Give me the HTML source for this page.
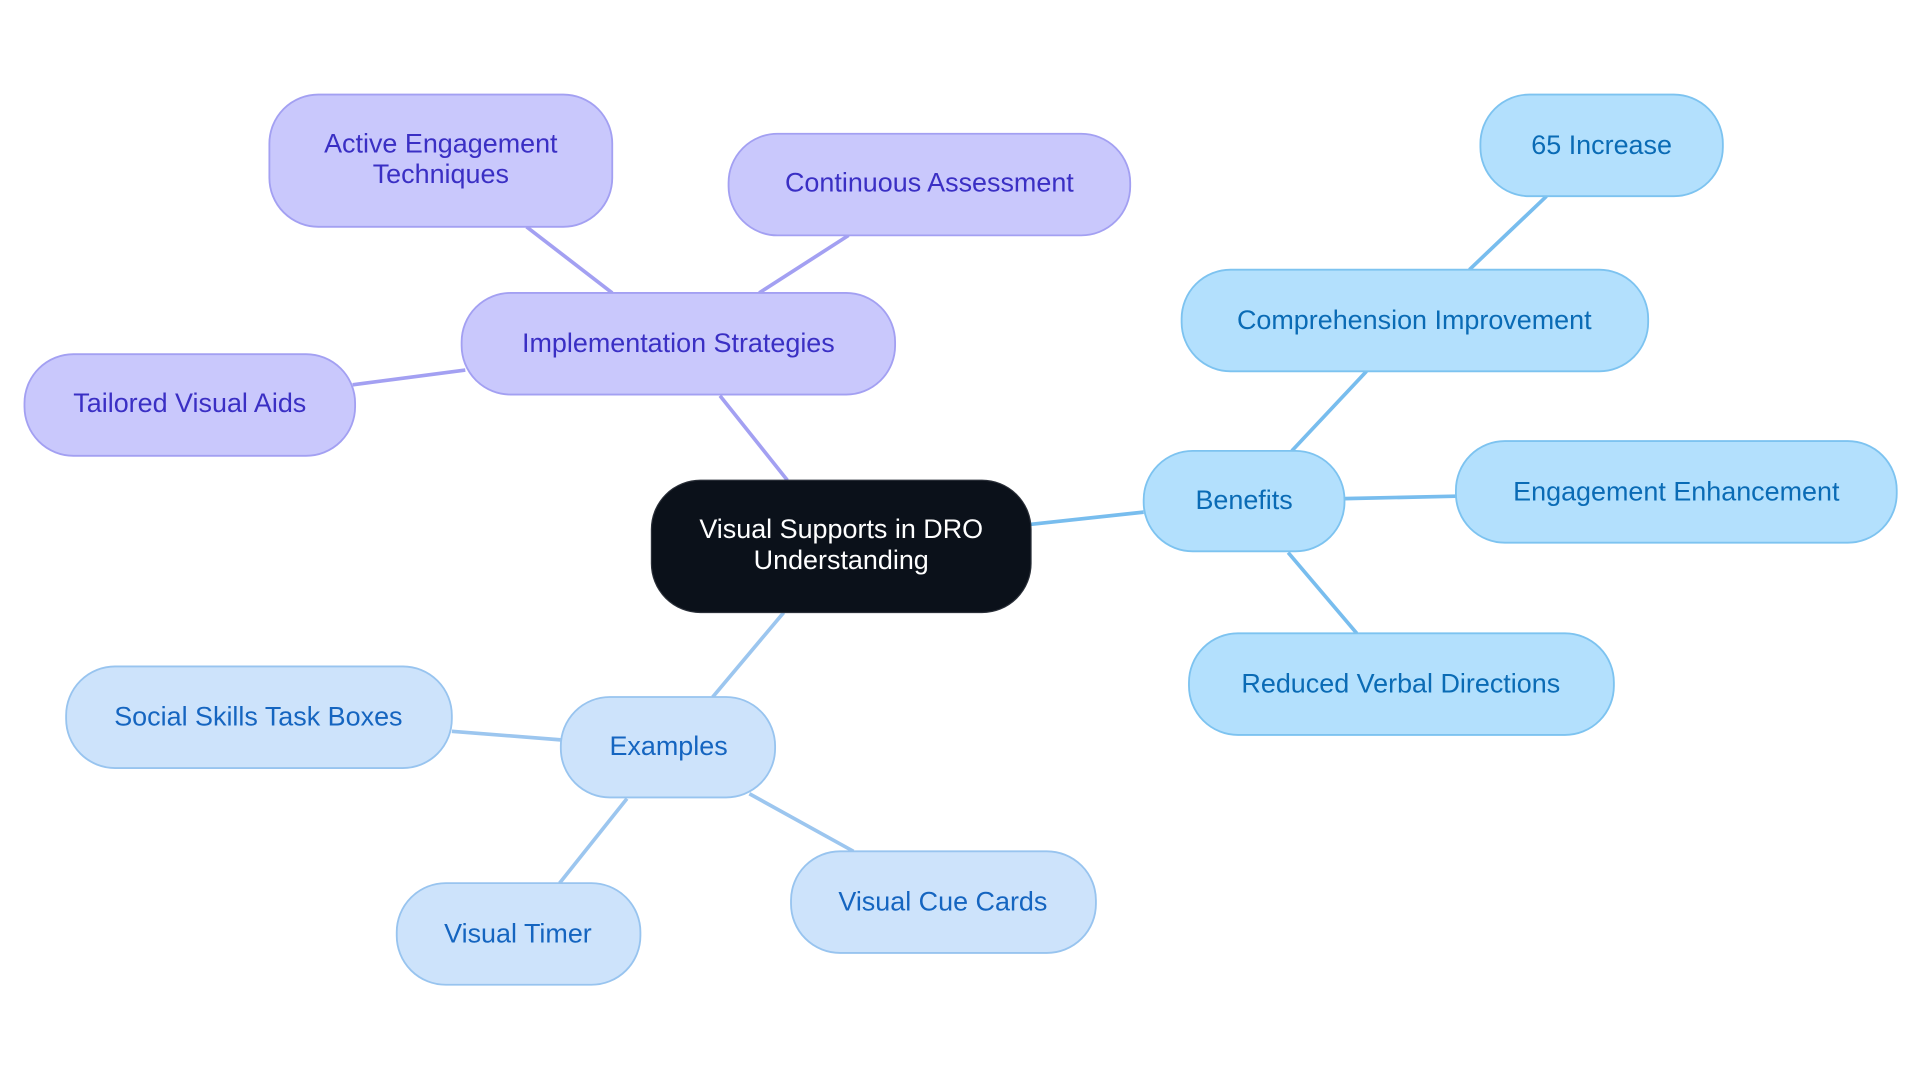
<!DOCTYPE html>
<html><head><meta charset="utf-8"><style>
html,body{margin:0;padding:0;background:#fff;width:1920px;height:1083px;overflow:hidden}
svg{display:block}
text{font-family:"Liberation Sans",sans-serif;font-size:22px;text-anchor:middle;dominant-baseline:central}
</style></head><body>
<svg width="1920" height="1083" viewBox="0 0 1568 884" xmlns="http://www.w3.org/2000/svg">
<g stroke-width="3" fill="none">
<g stroke="#a3a0f2">
<line x1="643" y1="392" x2="588" y2="323"/>
<line x1="500" y1="239" x2="430" y2="185"/>
<line x1="620" y1="239" x2="693" y2="192"/>
<line x1="380" y1="302" x2="288" y2="314"/>
</g>
<g stroke="#78bdee">
<line x1="842" y1="428" x2="934" y2="418"/>
<line x1="1055" y1="368" x2="1116" y2="303"/>
<line x1="1200" y1="220" x2="1263" y2="160"/>
<line x1="1098" y1="407" x2="1189" y2="405"/>
<line x1="1052" y1="451" x2="1108" y2="517"/>
</g>
<g stroke="#9cc6ef">
<line x1="640" y1="500" x2="582" y2="569"/>
<line x1="458" y1="604" x2="369" y2="597"/>
<line x1="512" y1="652" x2="457" y2="721"/>
<line x1="612" y1="648" x2="697" y2="695"/>
</g>
</g>
<rect x="532" y="392" width="310" height="108" rx="40" fill="#0b111a" stroke="#2a2f38"/>
<text x="687" y="432" fill="#fff">Visual Supports in DRO</text>
<text x="687" y="457" fill="#fff">Understanding</text>
<g fill="#c9c8fc" stroke="#a3a0f2" stroke-width="1.5">
<rect x="377" y="239" width="354" height="83" rx="40"/>
<rect x="220" y="77" width="280" height="108" rx="40"/>
<rect x="595" y="109" width="328" height="83" rx="40"/>
<rect x="20" y="289" width="270" height="83" rx="40"/>
</g>
<g fill="#3a2fc4">
<text x="554" y="280">Implementation Strategies</text>
<text x="360" y="117">Active Engagement</text>
<text x="360" y="142">Techniques</text>
<text x="759" y="149">Continuous Assessment</text>
<text x="155" y="329">Tailored Visual Aids</text>
</g>
<g fill="#b3e0fd" stroke="#7dc3f0" stroke-width="1.5">
<rect x="934" y="368" width="164" height="82" rx="40"/>
<rect x="1209" y="77" width="198" height="83" rx="40"/>
<rect x="965" y="220" width="381" height="83" rx="40"/>
<rect x="1189" y="360" width="360" height="83" rx="40"/>
<rect x="971" y="517" width="347" height="83" rx="40"/>
</g>
<g fill="#0a6bb5">
<text x="1016" y="408">Benefits</text>
<text x="1308" y="118">65 Increase</text>
<text x="1155" y="261">Comprehension Improvement</text>
<text x="1369" y="401">Engagement Enhancement</text>
<text x="1144" y="558">Reduced Verbal Directions</text>
</g>
<g fill="#cde3fb" stroke="#98c4ef" stroke-width="1.5">
<rect x="458" y="569" width="175" height="82" rx="40"/>
<rect x="54" y="544" width="315" height="83" rx="40"/>
<rect x="324" y="721" width="199" height="83" rx="40"/>
<rect x="646" y="695" width="249" height="83" rx="40"/>
</g>
<g fill="#1565c0">
<text x="546" y="609">Examples</text>
<text x="211" y="585">Social Skills Task Boxes</text>
<text x="423" y="762">Visual Timer</text>
<text x="770" y="736">Visual Cue Cards</text>
</g>
</svg>
</body></html>
